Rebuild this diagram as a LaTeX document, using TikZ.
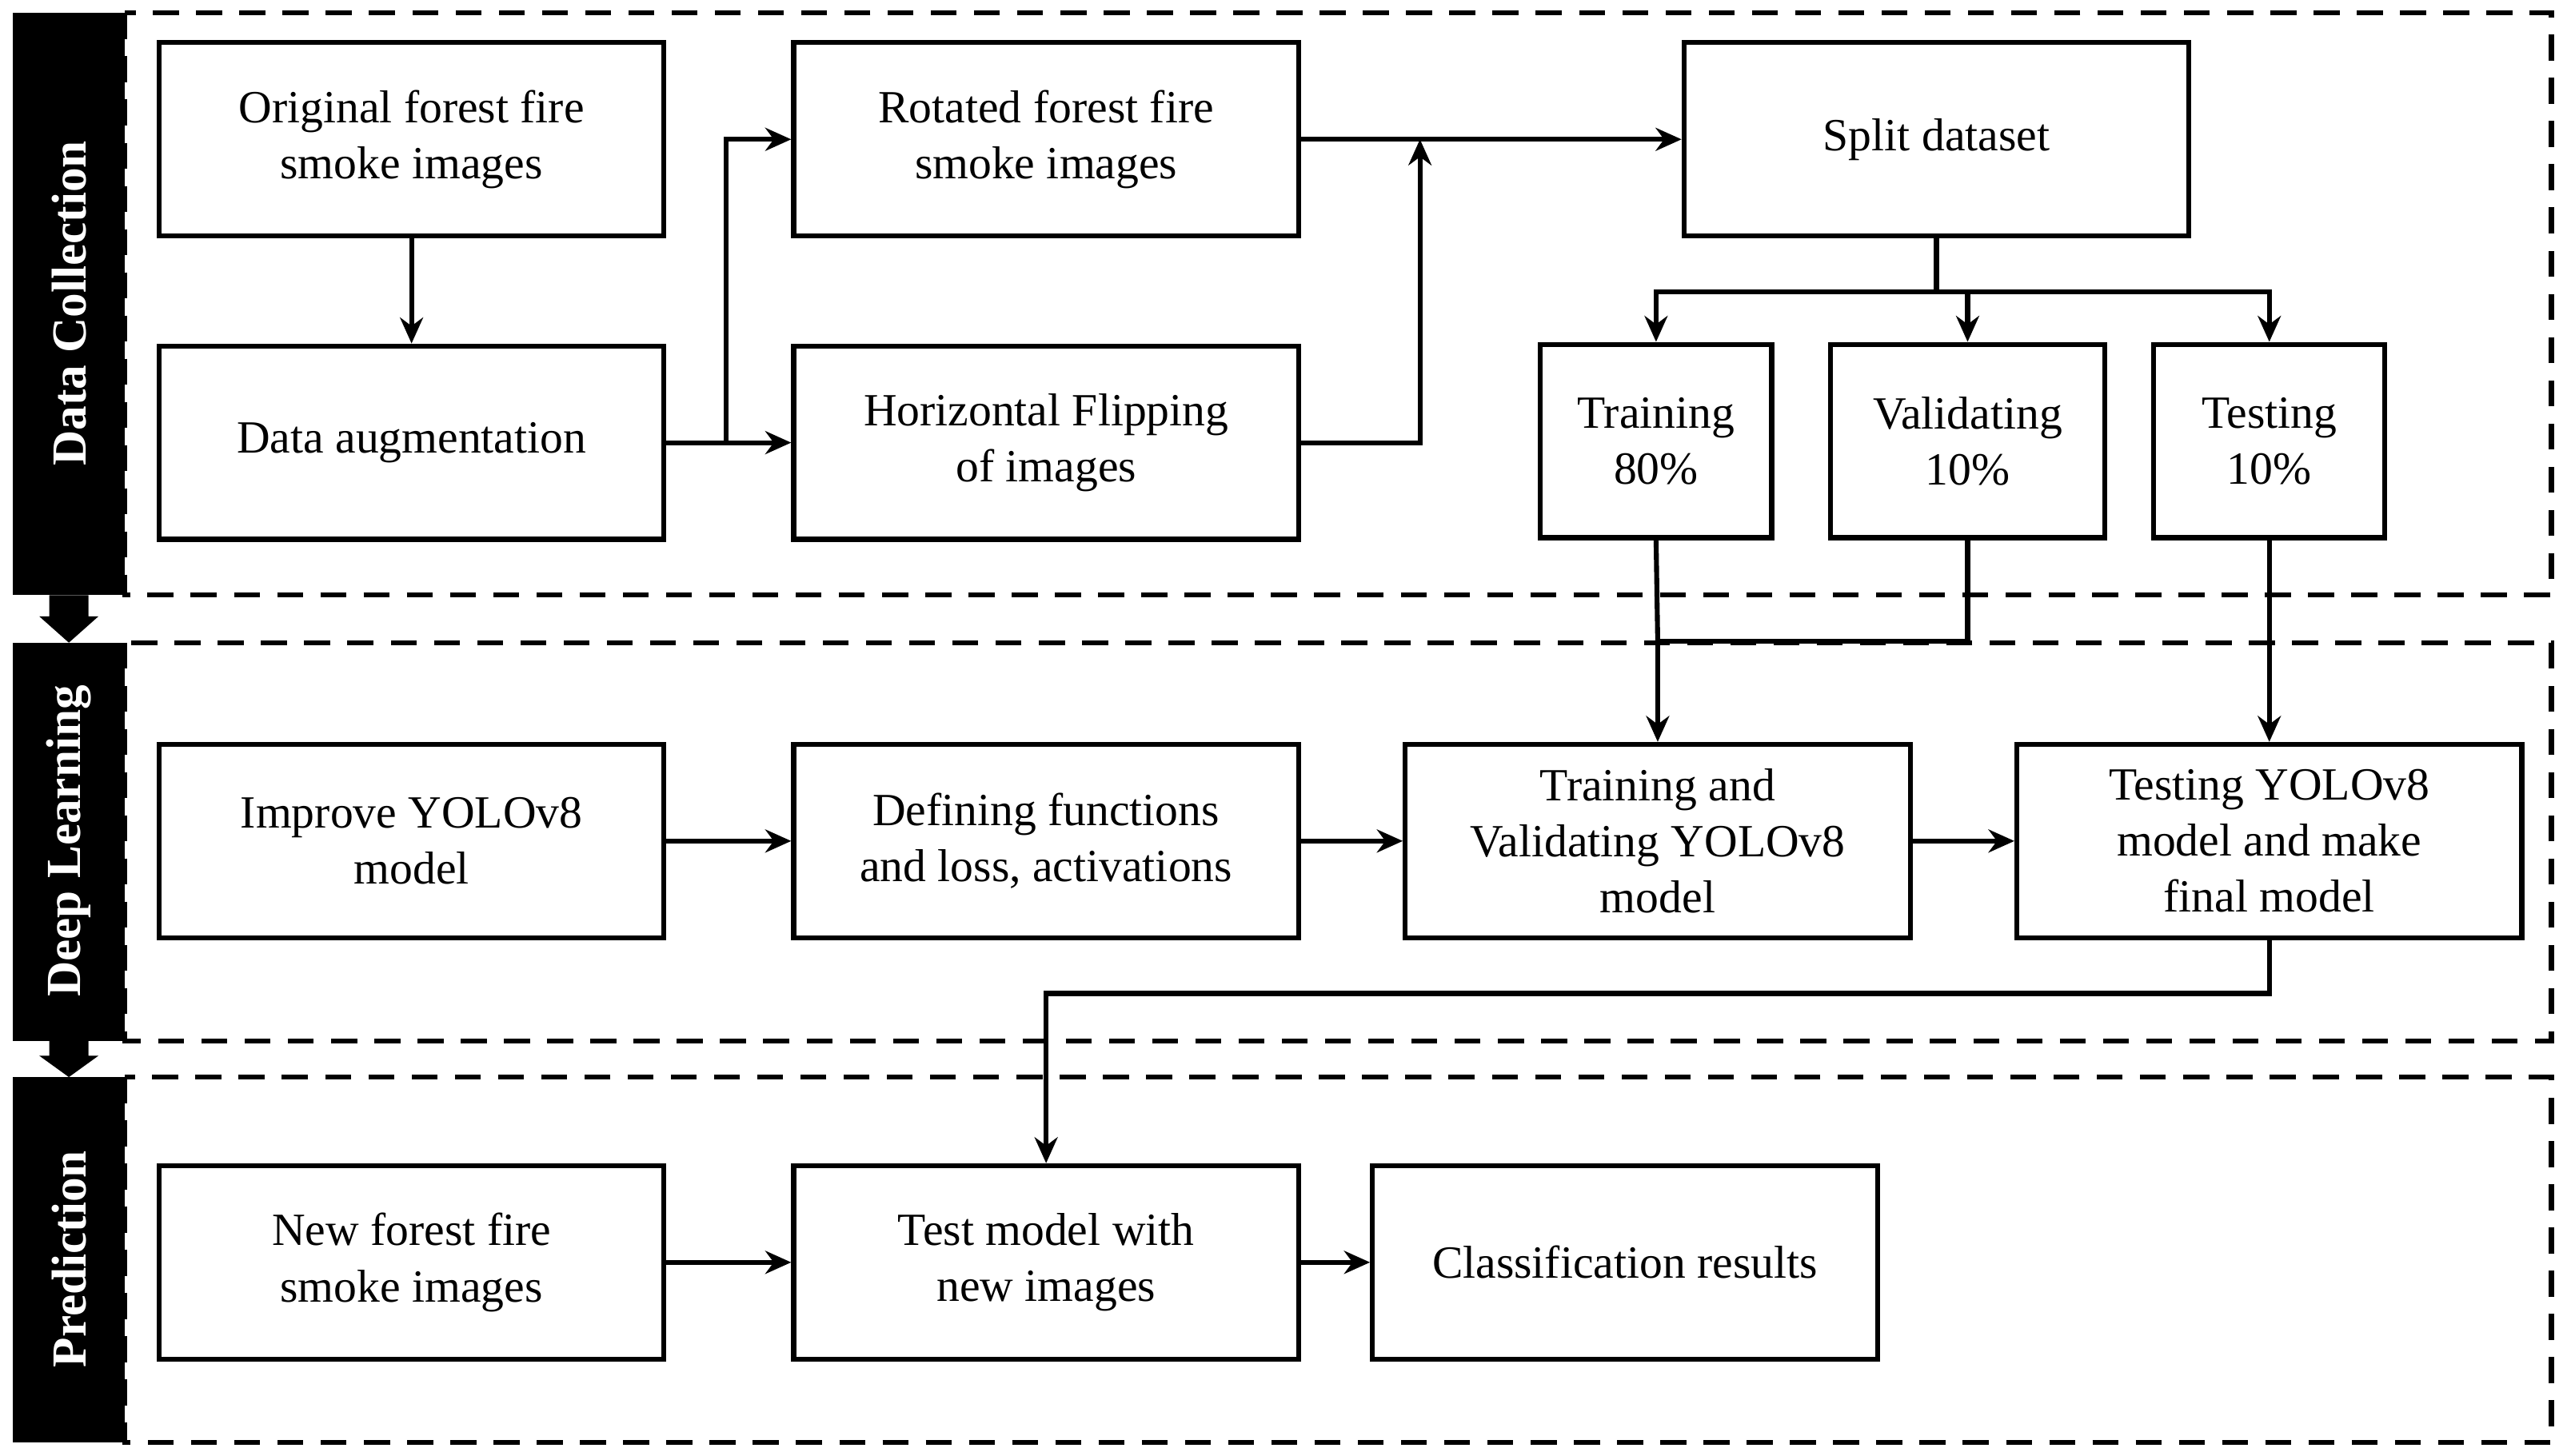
\documentclass[tikz,border=0pt]{standalone}
\usepackage{fontspec}
\setmainfont{Liberation Serif}
\usetikzlibrary{positioning, arrows.meta, calc}

\tikzset{
    box/.style={draw=black, line width=1.7pt, minimum width=6.16cm, minimum height=2.36cm,
        align=center, font=\fontsize{16}{19.5}\selectfont, inner sep=2pt},
    sbox/.style={box, minimum width=2.82cm},
    lane/.style={draw=black, line width=1.7pt, dash pattern=on 9pt off 6pt},
    bar/.style={fill=black},
    flow/.style={line width=1.7pt, -{Stealth[length=9pt,width=8pt]}},
    link/.style={line width=1.7pt},
    title/.style={text=white, rotate=90, font=\fontsize{17}{20}\selectfont\bfseries}
}

\begin{document}
\begin{tikzpicture}[x=0.02cm, y=-0.02cm]
        \useasboundingbox (0,0) rectangle (1568,888);

        % lanes
        \draw[lane] (76,8) rectangle (1556,363);
        \draw[lane] (76,392) rectangle (1556,635);
        \draw[lane] (76,657) rectangle (1556,880);
        \fill[bar] (8,8) rectangle (76,363);
        \fill[bar] (8,392) rectangle (76,635);
        \fill[bar] (8,657) rectangle (76,880);
        \node[title] (tdata) at (42,185) {Data Collection};
        \node[title] (tdeep) at (42,513) {Deep Learning};
        \node[title] (tpred) at (42,768) {Prediction};
        \fill[bar] (30,363) -- (54,363) -- (54,376) -- (60,376) -- (42,392) -- (24,376) -- (30,376) -- cycle;
        \fill[bar] (30,635) -- (54,635) -- (54,644) -- (60,644) -- (42,657) -- (24,644) -- (30,644) -- cycle;

        % data collection
        \node[box] (orig) at (251,85) {Original forest fire\\smoke images};
        \node[box] (aug) at (251,270) {Data augmentation};
        \node[box] (rot) at (638,85) {Rotated forest fire\\smoke images};
        \node[box] (flip) at (638,270) {Horizontal Flipping\\of images};
        \node[box] (split) at (1181,85) {Split dataset};
        \node[sbox] (train) at (1010,269) {Training\\80\%};
        \node[box, minimum width=3.34cm] (valid) at (1200,269) {Validating\\10\%};
        \node[sbox] (test) at (1384,269) {Testing\\10\%};

        % deep learning
        \node[box] (improve) at (251,513) {Improve YOLOv8\\model};
        \node[box] (define) at (638,513) {Defining functions\\and loss, activations};
        \node[box] (trval) at (1011,513) {Training and\\Validating YOLOv8\\model};
        \node[box] (final) at (1384,513) {Testing YOLOv8\\model and make\\final model};

        % prediction
        \node[box] (newimg) at (251,770) {New forest fire\\smoke images};
        \node[box] (testnew) at (638,770) {Test model with\\new images};
        \node[box] (result) at (991,770) {Classification results};

        \coordinate (fork) at (443,270);
        \coordinate (join) at (866,85);
        \coordinate (hub) at (1181,178);
        \coordinate (meet) at (1011,391);
        \coordinate (bend) at (638,606);

        \draw[flow] (orig) -- (aug);
        \draw[link] (aug) -- (fork);
        \draw[flow] (fork) |- (rot);
        \draw[flow] (fork) -- (flip);
        \draw[flow] (rot) -- (split);
        \draw[flow] (flip.east) -| (join);
        \draw[link] (split.south) -- (hub);
        \draw[flow] (hub) -| (train.north);
        \draw[flow] (hub) -| (valid.north);
        \draw[flow] (hub) -| (test.north);
        \draw[link] (train.south) -- (meet);
        \draw[link] (valid.south) |- (meet);
        \draw[flow] (meet) -- (trval.north);
        \draw[flow] (test.south) -- (final.north);

        \draw[flow] (improve) -- (define);
        \draw[flow] (define) -- (trval);
        \draw[flow] (trval) -- (final);
        \draw[flow] (final.south) |- (bend) -- (testnew.north);

        \draw[flow] (newimg) -- (testnew);
        \draw[flow] (testnew) -- (result);
\end{tikzpicture}
\end{document}
